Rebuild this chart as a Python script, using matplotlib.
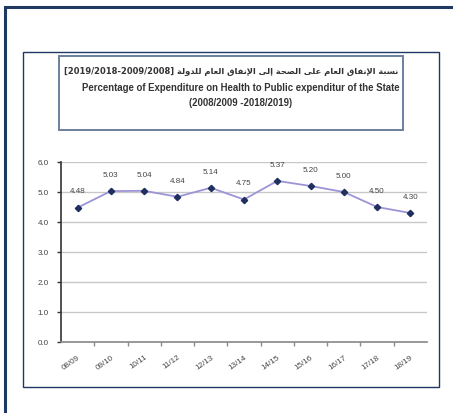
import matplotlib
matplotlib.use("Agg")
import matplotlib.pyplot as plt
from matplotlib.patches import Rectangle
from matplotlib.ticker import FixedLocator, NullFormatter

# ---------------- data ----------------
years = ["08/09", "09/10", "10/11", "11/12", "12/13", "13/14",
         "14/15", "15/16", "16/17", "17/18", "18/19"]
values = [4.48, 5.03, 5.04, 4.84, 5.14, 4.75, 5.37, 5.20, 5.00, 4.50, 4.30]
y_ticks = [0.0, 1.0, 2.0, 3.0, 4.0, 5.0, 6.0]

title_ar = "نسبة الإنفاق العام على الصحة إلى الإنفاق العام للدولة"
title_ar_years = "[2019/2018-2009/2008]"
title_en = "Percentage of Expenditure on Health to Public expenditur of the State"
title_en_years = "(2008/2009 -2018/2019)"

# ---------------- minimal Arabic shaping (matplotlib has no shaping) -------
FORMS = {
    '\u0627': ('\uFE8D', '\uFE8E', None, None),
    '\u0625': ('\uFE87', '\uFE88', None, None),
    '\u0628': ('\uFE8F', '\uFE90', '\uFE91', '\uFE92'),
    '\u0629': ('\uFE93', '\uFE94', None, None),
    '\u062D': ('\uFEA1', '\uFEA2', '\uFEA3', '\uFEA4'),
    '\u062F': ('\uFEA9', '\uFEAA', None, None),
    '\u0633': ('\uFEB1', '\uFEB2', '\uFEB3', '\uFEB4'),
    '\u0635': ('\uFEB9', '\uFEBA', '\uFEBB', '\uFEBC'),
    '\u0639': ('\uFEC9', '\uFECA', '\uFECB', '\uFECC'),
    '\u0641': ('\uFED1', '\uFED2', '\uFED3', '\uFED4'),
    '\u0642': ('\uFED5', '\uFED6', '\uFED7', '\uFED8'),
    '\u0644': ('\uFEDD', '\uFEDE', '\uFEDF', '\uFEE0'),
    '\u0645': ('\uFEE1', '\uFEE2', '\uFEE3', '\uFEE4'),
    '\u0646': ('\uFEE5', '\uFEE6', '\uFEE7', '\uFEE8'),
    '\u0648': ('\uFEED', '\uFEEE', None, None),
    '\u0649': ('\uFEEF', '\uFEF0', '\uFBE8', '\uFBE9'),
}
LAM_ALEF = {'\u0627': ('\uFEFB', '\uFEFC'), '\u0625': ('\uFEF9', '\uFEFA')}


def shape_word(word):
    units = []
    i = 0
    while i < len(word):
        c = word[i]
        if c == '\u0644' and i + 1 < len(word) and word[i + 1] in LAM_ALEF:
            iso, fin = LAM_ALEF[word[i + 1]]
            units.append((iso, fin, None, None))
            i += 2
            continue
        units.append(FORMS.get(c, (c, c, None, None)))
        i += 1
    out = []
    n = len(units)
    for k, f in enumerate(units):
        prev = k > 0 and units[k - 1][2] is not None
        nxt = k < n - 1 and f[2] is not None
        if prev and nxt:
            g = f[3]
        elif prev:
            g = f[1]
        elif nxt:
            g = f[2]
        else:
            g = f[0]
        out.append(g)
    return "".join(reversed(out))


def shape_line(text):
    return " ".join(shape_word(w) for w in reversed(text.split(" ")))


# ---------------- figure ----------------
W, H = 453, 414
fig = plt.figure(figsize=(W / 100, H / 100), dpi=100)
fig.patch.set_facecolor("white")


def fx(x):
    return x / W


def fy(y):
    return 1 - y / H


def rect(x0, y0, x1, y1, color, lw):
    fig.patches.append(Rectangle((fx(x0), fy(y1)), fx(x1) - fx(x0), fy(y0) - fy(y1),
                                 transform=fig.transFigure, fill=False,
                                 edgecolor=color, linewidth=lw, zorder=0))


# frames
rect(5, 8, 470, 430, "#1F3864", 2.2)
rect(23, 53, 439, 388, "#1F3864", 1.0)
rect(59, 57, 403, 131, "#6C7F9C", 1.4)

# title texts
fig.text(fx(231), fy(72), title_ar_years + " " + shape_line(title_ar),
         ha="center", va="center", fontsize=6.0, fontweight="bold",
         family=["DejaVu Sans"], color="#333333")
fig.text(fx(241), fy(88), title_en, ha="center", va="center", fontsize=6.9,
         fontweight="bold", family=["Liberation Sans Narrow", "Liberation Sans"],
         color="#333333")
fig.text(fx(241), fy(103), title_en_years, ha="center", va="center", fontsize=6.9,
         fontweight="bold", family=["Liberation Sans Narrow", "Liberation Sans"],
         color="#333333")

# axes
ax_l, ax_r, ax_t, ax_b = 61, 427, 163, 343
ax = fig.add_axes([fx(ax_l), fy(ax_b), fx(ax_r) - fx(ax_l), fy(ax_t) - fy(ax_b)])
ax.set_facecolor("white")
x = list(range(len(years)))
ax.set_xlim(-0.5, len(years) - 0.5)
ax.set_ylim(0, 6)

ax.grid(axis="y", color="#C8C8C8", linewidth=1.0)
ax.set_axisbelow(True)
for s in ["top", "right"]:
    ax.spines[s].set_visible(False)
ax.spines["left"].set_color("#333333")
ax.spines["left"].set_linewidth(1.2)
ax.spines["bottom"].set_color("#888888")
ax.spines["bottom"].set_linewidth(1.2)

ax.plot(x, values, color="#9C94D6", linewidth=1.3, zorder=3)
ax.plot(x, values, linestyle="none", marker="D", markersize=3.2,
        color="#1F2F5F", zorder=4)

for xi, v in zip(x, values):
    ax.annotate(f"{v:.2f}", (xi, v), xytext=(0, 12), textcoords="offset points",
                ha="center", va="center", fontsize=5.8, color="#444444",
                family="Liberation Sans")

ax.set_yticks(y_ticks)
ax.set_yticklabels([f"{t:.1f}" for t in y_ticks], fontsize=5.8,
                   color="#444444", family="Liberation Sans")
ax.tick_params(axis="y", length=3, width=1, color="#333333", pad=6)

ax.set_xticks(x)
ax.set_xticklabels(years, rotation=35, ha="right", rotation_mode="anchor",
                   fontsize=5.8, color="#444444", family="Liberation Sans")
ax.tick_params(axis="x", which="major", length=0, pad=8)
ax.xaxis.set_minor_locator(FixedLocator([i + 0.5 for i in range(len(years) - 1)]))
ax.xaxis.set_minor_formatter(NullFormatter())
ax.tick_params(axis="x", which="minor", length=3, width=1, color="#888888")

fig.savefig("out.png", dpi=100)
